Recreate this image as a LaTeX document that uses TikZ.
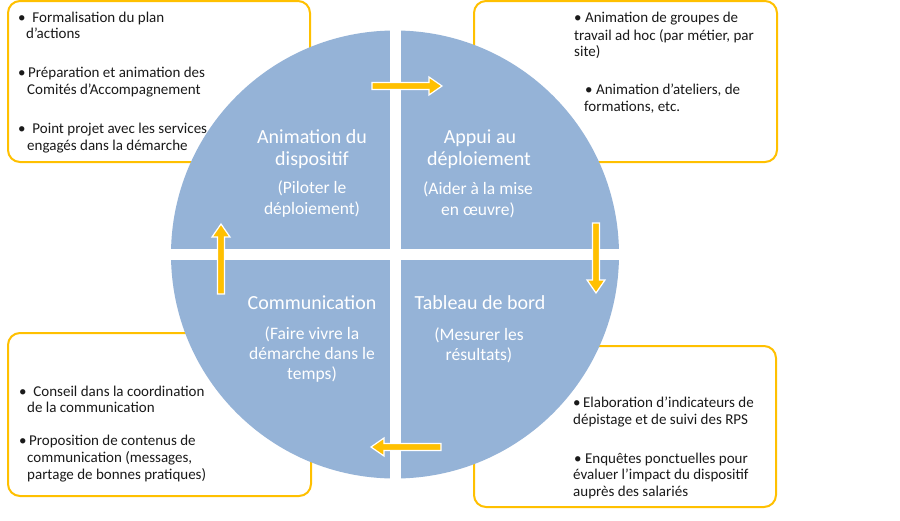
\documentclass[tikz,border=0pt]{standalone}
\usepackage{fontspec}
\setmainfont{Carlito}
\definecolor{qblue}{HTML}{95B3D7}
\definecolor{gold}{HTML}{FFC000}
\definecolor{txt}{HTML}{1A1A1A}
\begin{document}
\begin{tikzpicture}[x=1pt,y=-1pt,
  box/.style={draw=gold, line width=2pt, rounded corners=12pt, fill=white},
  btxt/.style={anchor=base west, inner sep=0pt, text=txt, font=\fontsize{15}{18}\selectfont},
  qtitle/.style={anchor=base, inner sep=0pt, text=white, font=\fontsize{20}{22}\selectfont},
  qsub/.style={anchor=base, inner sep=0pt, text=white, font=\fontsize{17.5}{21}\selectfont},
  blockarrow/.pic={\filldraw[fill=gold, draw=white, line width=1.2pt]
     (0,-3.5)--(57,-3.5)--(57,-9)--(70,0)--(57,9)--(57,3.5)--(0,3.5)--cycle;}
]
\useasboundingbox (0,0) rectangle (900,520);
\fill[white] (0,0) rectangle (900,520);

% boxes
\draw[box] (8,1) rectangle (310,162);
\draw[box] (474,1) rectangle (777,162);
\draw[box] (8,333) rectangle (311,496);
\draw[box] (474,346) rectangle (776,507);

% circle
\fill[qblue] (395,254.5) circle (224);
\begin{scope}
  \clip (395,254.5) circle (225);
  \fill[white] (389.5,20) rectangle (401,490);
  \fill[white] (160,249) rectangle (630,260);
\end{scope}

% arrows
\pic at (372,86) {blockarrow};
\pic[rotate=-90] at (596,223) {blockarrow};
\pic[rotate=180] at (441,447) {blockarrow};
\pic[rotate=90] at (221,294) {blockarrow};

% quadrant texts
\node[qtitle] (q1a) at (312,143) {Animation du};
\node[qtitle] (q1b) at (312,165) {dispositif};
\node[qsub] (q1c) at (312,193) {(Piloter le};
\node[qsub] (q1d) at (312,214) {déploiement)};

\node[qtitle] (q2a) at (480,143) {Appui au};
\node[qtitle] (q2b) at (479,165) {déploiement};
\node[qsub] (q2c) at (478,194) {(Aider à la mise};
\node[qsub] (q2d) at (478,215) {en œuvre)};

\node[qtitle] (q3a) at (312,309) {Communication};
\node[qsub] (q3b) at (312,339) {(Faire vivre la};
\node[qsub] (q3c) at (312,359) {démarche dans le};
\node[qsub] (q3d) at (312,379) {temps)};

\node[qtitle] (q4a) at (480,309) {Tableau de bord};
\node[qsub] (q4b) at (479,340) {(Mesurer les};
\node[qsub] (q4c) at (479,360) {résultats)};

% top-left box
\node[btxt] (tl1) at (18,22) {•\ \ Formalisation du plan};
\node[btxt] (tl2) at (26,38) {d’actions};
\node[btxt] (tl3) at (18,77) {•\,Préparation et animation des};
\node[btxt] (tl4) at (27,94) {Comités d’Accompagnement};
\node[btxt] (tl5) at (18,133) {•\ \ Point projet avec les services};
\node[btxt] (tl6) at (27,150) {engagés dans la démarche};

% top-right box
\node[btxt] (tr1) at (574,22) {• Animation de groupes de};
\node[btxt] (tr2) at (574,40) {travail ad hoc (par métier, par};
\node[btxt] (tr3) at (574,56) {site)};
\node[btxt] (tr4) at (585,94) {• Animation d’ateliers, de};
\node[btxt] (tr5) at (584,111) {formations, etc.};

% bottom-left box
\node[btxt] (bl1) at (19,396) {•\ \ Conseil dans la coordination};
\node[btxt] (bl2) at (27,412) {de la communication};
\node[btxt] (bl3) at (19,445) {•\,Proposition de contenus de};
\node[btxt] (bl4) at (27,462) {communication (messages,};
\node[btxt] (bl5) at (27,479) {partage de bonnes pratiques)};

% bottom-right box
\node[btxt] (br1) at (573,407) {•\,Elaboration d’indicateurs de};
\node[btxt] (br2) at (573,424) {dépistage et de suivi des RPS};
\node[btxt] (br3) at (574,463) {• Enquêtes ponctuelles pour};
\node[btxt] (br4) at (573,479) {évaluer l’impact du dispositif};
\node[btxt] (br5) at (573,496) {auprès des salariés};
\end{tikzpicture}
\end{document}
